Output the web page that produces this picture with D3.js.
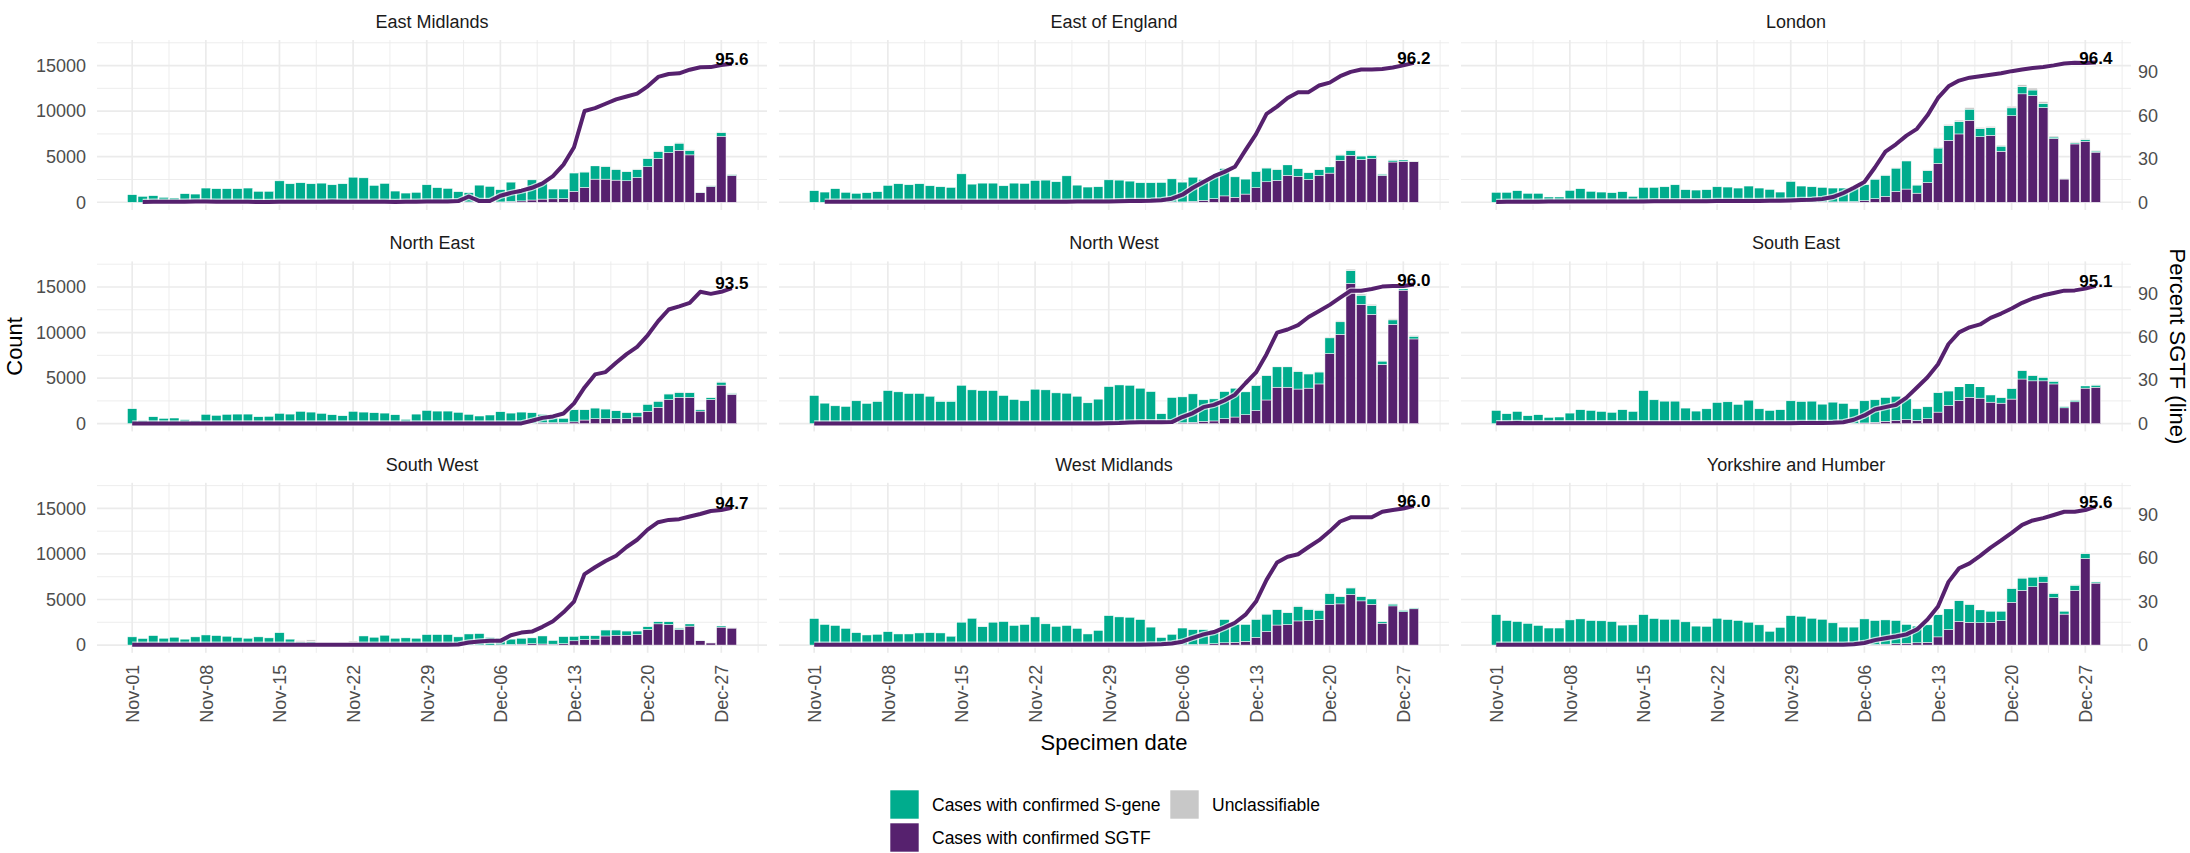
<!DOCTYPE html>
<html><head><meta charset="utf-8">
<script src="https://cdn.jsdelivr.net/npm/d3@7"></script>
<style>
html,body{margin:0;padding:0;background:#fff;overflow:hidden;}
svg{display:block;font-family:"Liberation Sans",Arial,sans-serif;}
</style></head><body>
<svg id="chart" width="2190" height="853"></svg>
<script>
// ---------------- DATA ----------------
const regionNames = ["East Midlands","East of England","London","North East","North West","South East","South West","West Midlands","Yorkshire and Humber"];
const seriesNames = ["Cases with confirmed S-gene","Cases with confirmed SGTF","Unclassifiable"];
const xTickLabels = ["Nov-01","Nov-08","Nov-15","Nov-22","Nov-29","Dec-06","Dec-13","Dec-20","Dec-27"];
const countTicks = [0,5000,10000,15000];
const pctTicks = [0,30,60,90];

// East Midlands
const emSGene = [830,650,720,540,470,940,900, 1560,1490,1490,1490,1560,1200,1200, 2350,2030,2140,2030,2100,1920,2030, 2750,2680,1850,2070,1230,1010,1090, 1920,1600,1520,1160,1010,1860,1710, 1340,2110,1250,2210,1860,1070,1050, 2020,1690,1460,1400,1190,1000,890, 900,790,750,790,500,50,70,390,110];
const emSGTF = [0,0,0,0,0,0,0, 0,0,0,0,0,0,0, 0,0,0,0,0,0,0, 0,0,0,0,0,0,0, 0,0,0,0,40,20,30, 40,100,150,250,350,380,400, 1200,1630,2540,2540,2430,2360,2720, 3900,4800,5450,5700,5200,1050,1750,7250,2950];
const emUncl = [0,0,0,0,0,0,0, 0,0,0,0,0,0,0, 0,0,0,0,0,0,0, 0,0,0,0,0,0,0, 0,0,0,0,0,0,0, 0,0,0,0,0,0,0, 40,50,60,50,40,40,50, 60,60,70,70,60,20,30,80,40];
const emPct = [null,0.2,0.3,0.3,0.4,0.3,0.5, 0.5,0.4,0.4,0.3,0.3,0.2,0.2, 0.3,0.3,0.4,0.4,0.4,0.5,0.3, 0.3,0.4,0.3,0.3,0.2,0.3,0.4, 0.5,0.5,0.6,0.8,4.0,0.8,0.9, 4.5,6.5,8,10,13,18,26, 38,63,65,68,71,73,75, 80,86.5,88.5,89,91.5,93.2,93.3,94.7,95.6];

// East of England
const eeSGene = [1270,1120,1490,1090,980,1050,1160, 1850,2030,1920,2030,1810,1700,1630, 3120,1990,2100,2100,1810,2100,2070, 2390,2430,2250,2900,1880,1670,1700, 2460,2430,2320,2140,2140,2150,2530, 2170,2650,2300,2430,3000,2240,1640, 1800,1510,1210,1160,830,760,620, 690,580,540,380,350,140,200,150,20];
const eeSGTF = [0,0,0,0,0,0,0, 0,0,0,0,0,0,0, 0,0,0,0,0,0,0, 0,0,0,0,0,0,0, 0,0,0,0,0,20,40, 40,100,200,400,700,550,900, 1600,2250,2400,2950,2850,2500,2950, 3200,4600,5150,4700,4800,2950,4420,4500,4450];
const eeUncl = [0,0,0,0,0,0,0, 0,0,0,0,0,0,0, 0,0,0,0,0,0,0, 0,0,0,0,0,0,0, 0,0,0,0,0,0,0, 0,0,0,0,0,0,0, 40,50,50,60,50,40,50, 60,70,70,60,70,30,60,60,60];
const eePct = [null,0.3,0.3,0.4,0.3,0.3,0.4, 0.4,0.3,0.3,0.3,0.3,0.3,0.3, 0.3,0.3,0.3,0.3,0.3,0.3,0.3, 0.3,0.3,0.3,0.4,0.5,0.5,0.6, 0.6,0.7,0.8,0.9,1.0,1.4,2.5, 5.2,10,14,18,21,24.5,36, 47,61,66,72,76,76,80.6, 82.6,87,90,91.6,91.6,92,93,94.5,96.2];

// London
const ldSGene = [1090,1090,1270,980,980,580,580, 1300,1490,1200,1120,1050,1160,650, 1630,1630,1700,1920,1380,1340,1380, 1700,1670,1560,1780,1560,1410,1120, 2270,1765,1680,1600,1520,1510,1480, 1790,2140,2320,2550,3090,890,1320, 1680,1600,1370,1220,870,830,560, 860,780,620,460,160,50,120,170,120];
const ldSGTF = [0,0,0,0,0,0,0, 0,0,0,0,0,0,0, 0,0,0,0,0,0,0, 0,0,0,0,0,0,0, 10,15,20,30,40,50,80, 180,400,650,1200,1450,1000,2170, 4270,6800,7500,9000,7200,7350,5600, 9500,11900,11700,10400,7000,2550,6400,6700,5500];
const ldUncl = [0,0,0,0,0,0,0, 0,0,0,0,0,0,0, 0,0,0,0,0,0,0, 0,0,0,0,0,0,0, 0,0,0,0,0,0,0, 20,30,40,50,60,30,60, 100,150,150,180,150,150,110, 180,220,220,190,120,40,110,120,100];
const ldPct = [0.2,0.3,0.3,0.4,0.4,0.5,0.5, 0.5,0.5,0.5,0.6,0.6,0.6,0.6, 0.6,0.7,0.7,0.7,0.7,0.7,0.7, 0.8,0.8,0.8,0.9,0.9,1.0,1.0, 1.2,1.5,1.8,2.3,3.6,6.4,10, 14,24,35,40,46,50.7,60, 72,80,84,86,87,88,89, 90.5,91.6,92.7,93.4,94.5,95.8,96.3,96.1,96.4];

// North East
const neSGene = [1640,360,760,580,620,440,330, 1020,910,1020,1050,1050,760,800, 1130,1050,1350,1270,1130,980,870, 1350,1270,1200,1160,980,470,1050, 1450,1380,1380,1240,1020,840,950, 1310,1160,1260,1150,900,520,470, 1340,1130,1170,1060,870,690,490, 790,670,620,540,500,160,220,330,110];
const neSGTF = [0,0,0,0,0,0,0, 0,0,0,0,0,0,0, 0,0,0,0,0,0,0, 0,0,0,0,0,0,0, 0,0,0,0,0,0,0, 0,0,10,50,120,100,110, 200,400,550,550,550,550,750, 1350,1800,2640,2900,2900,1380,2650,4230,3230];
const neUncl = [0,0,0,0,0,0,0, 0,0,0,0,0,0,0, 0,0,0,0,0,0,0, 0,0,0,0,0,0,0, 0,0,0,0,0,0,0, 0,0,0,0,0,0,0, 20,30,30,30,30,30,30, 40,40,50,50,50,20,40,60,40];
const nePct = [0.2,0.1,0.1,0.1,0.1,0.1,0.1, 0.1,0.1,0.1,0.1,0.1,0.1,0.1, 0.1,0.1,0.1,0.1,0.1,0.1,0.1, 0.1,0.1,0.1,0.1,0.1,0.1,0.1, 0.1,0.1,0.1,0.1,0.1,0.1,0.1, 0.1,0.1,0.2,2,4,5,7, 14,25,34,35.6,42,48,53, 61,70.8,78.8,81,83.4,91,89.6,91,93.5];

// North West
const nwSGene = [3090,2250,1960,1890,2510,2220,2430, 3630,3490,3310,3310,3010,2430,2430, 4210,3710,3630,3630,3090,2650,2510, 3780,3710,3380,3340,3010,2290,2690, 4070,4250,4200,3880,3500,1070,2820, 2840,3120,2370,2420,2970,3160,2510, 2760,2680,2240,2240,1940,1560,1310, 1720,1380,1400,1000,980,370,490,160,300];
const nwSGTF = [0,0,0,0,0,0,0, 0,0,0,0,0,0,0, 0,0,0,0,0,0,0, 0,0,0,0,0,0,0, 0,0,10,10,20,20,50, 100,150,250,300,550,730,980, 1450,2600,4000,4000,3800,3900,4360, 7700,9800,15400,13100,12000,6500,10900,14650,9300];
const nwUncl = [0,0,0,0,0,0,0, 0,0,0,0,0,0,0, 0,0,0,0,0,0,0, 0,0,0,0,0,0,0, 0,0,0,0,0,0,0, 0,0,0,0,0,0,0, 40,60,80,80,70,60,70, 100,120,160,140,130,70,120,80,100];
const nwPct = [0.2,0.2,0.2,0.2,0.2,0.2,0.2, 0.2,0.2,0.2,0.2,0.2,0.2,0.2, 0.2,0.2,0.2,0.2,0.2,0.2,0.2, 0.2,0.2,0.2,0.2,0.2,0.2,0.2, 0.3,0.4,0.8,0.9,1.0,1.0,1.1, 4.6,7.3,11.4,13,16,20,27.9, 35.4,48,62.8,65,68,73.6,77.7, 82,87,91.8,91.8,93,94.6,95,95,96.0];

// South East
const seSGene = [1450,1090,1340,870,980,690,730, 1160,1530,1450,1340,1240,1530,1340, 3630,2620,2470,2470,1710,1380,1630, 2320,2400,2110,2580,1630,1450,1530, 2510,2430,2470,2140,2350,2200,1590, 2430,2470,2620,2660,2270,1280,1300, 2140,1590,1510,1480,1250,800,620, 1170,920,580,400,300,160,180,250,230];
const seSGTF = [0,0,0,0,0,0,0, 0,0,0,0,0,0,0, 0,0,0,0,0,0,0, 0,0,0,0,0,0,0, 0,0,0,0,10,20,40, 80,150,250,350,450,350,550, 1270,2000,2540,2900,2800,2360,2250, 2700,4900,4700,4700,4360,1740,2400,3900,4000];
const seUncl = [0,0,0,0,0,0,0, 0,0,0,0,0,0,0, 0,0,0,0,0,0,0, 0,0,0,0,0,0,0, 0,0,0,0,0,0,0, 0,0,0,0,0,0,0, 40,40,50,50,50,40,40, 50,60,60,60,60,30,40,60,60];
const sePct = [0.3,0.3,0.4,0.3,0.3,0.3,0.3, 0.3,0.3,0.3,0.3,0.3,0.3,0.3, 0.3,0.3,0.3,0.3,0.3,0.3,0.3, 0.3,0.3,0.3,0.3,0.3,0.3,0.3, 0.3,0.4,0.4,0.5,0.6,1.0,2.7, 5.7,9.8,11.4,13,18,25,32, 41,55,63,66.5,68.5,73,76, 79.5,83.4,86.4,88.6,90.2,91.8,92,93.2,95.1];

// South West
const swSGene = [900,720,1040,750,860,650,900, 1110,1040,970,830,750,900,790, 1360,650,350,370,40,30,20, 250,1000,860,1080,750,790,750, 1150,1150,1150,900,1220,1260,830, 720,590,650,640,880,400,780, 510,460,410,660,580,470,400, 320,240,310,140,250,30,5,140,10];
const swSGTF = [0,0,0,0,0,0,0, 0,0,0,0,0,0,0, 0,0,0,0,0,0,0, 0,0,0,0,0,0,0, 0,0,0,0,0,0,0, 30,60,100,150,120,100,150, 470,600,650,1000,1080,1080,1150, 1720,2330,2260,1720,2080,500,240,1970,1870];
const swUncl = [0,0,0,0,0,0,0, 0,0,0,0,0,0,0, 0,0,150,200,40,30,30, 200,0,0,0,0,0,0, 0,0,0,0,0,0,0, 0,0,0,0,0,0,0, 20,20,20,30,30,30,30, 40,50,50,40,40,10,5,40,20];
const swPct = [0.3,0.3,0.3,0.3,0.3,0.3,0.3, 0.3,0.3,0.3,0.3,0.3,0.3,0.3, 0.3,0.3,0.3,0.3,0.3,0.3,0.3, 0.3,0.3,0.3,0.3,0.3,0.3,0.3, 0.3,0.3,0.3,0.4,1.8,2.5,2.9, 2.9,6.8,8.6,9.3,12.6,16.5,22.6, 30,49,53.7,58,61.6,67.7,72.7, 79.7,84.8,86.4,86.9,88.7,90.5,92.5,93.2,94.7];

// West Midlands
const wmSGene = [2910,2260,2150,1830,1360,1110,1180, 1470,1220,1220,1330,1360,1330,970, 2510,2940,2010,2510,2580,2150,2260, 3090,2330,2050,2150,1830,1220,1610, 3230,3090,3050,2800,1960,820,1160, 1830,1630,1590,1500,2550,1960,1860, 1990,1900,1700,1300,1610,1250,1030, 1190,800,720,460,590,190,200,170,100];
const wmSGTF = [0,0,0,0,0,0,0, 0,0,0,0,0,0,0, 0,0,0,0,0,0,0, 0,0,0,0,0,0,0, 0,0,0,0,10,10,20, 40,60,100,150,250,300,400, 850,1500,2200,2250,2650,2680,2800, 4480,4520,5550,4850,4480,2400,4300,3660,3980];
const wmUncl = [0,0,0,0,0,0,0, 0,0,0,0,0,0,0, 0,0,0,0,0,0,0, 0,0,0,0,0,0,0, 0,0,0,0,0,0,0, 0,0,0,0,0,0,0, 30,40,50,40,50,50,50, 70,60,80,70,60,30,60,50,50];
const wmPct = [0.3,0.3,0.3,0.3,0.3,0.3,0.3, 0.3,0.3,0.3,0.3,0.3,0.3,0.3, 0.3,0.3,0.3,0.3,0.3,0.3,0.3, 0.3,0.3,0.3,0.3,0.3,0.3,0.3, 0.3,0.3,0.3,0.3,0.4,0.6,1.1, 2.3,5,7.4,9,12,15.4,21, 30,45,57,61,62.7,67.7,72.4, 78.5,85.3,88.2,88.2,88.2,92,93.2,94.3,96.0];

// Yorkshire and Humber
const yhSGene = [3340,2690,2580,2370,2150,1870,1870, 2760,2870,2690,2660,2580,2190,2220, 3340,2910,2830,2830,2550,2080,2050, 2940,2800,2690,2510,2220,1510,1940, 3230,3160,2940,2830,2440,1960,1950, 2840,2630,2660,2540,2060,1830,1920, 2440,2280,2270,1970,1420,1230,1030, 1520,1350,1060,660,480,330,570,550,130];
const yhSGTF = [0,0,0,0,0,0,0, 0,0,0,0,0,0,0, 0,0,0,0,0,0,0, 0,0,0,0,0,0,0, 0,0,0,0,0,10,20, 30,60,100,150,200,250,300, 900,1700,2600,2500,2450,2500,2700, 4700,6000,6400,6900,5200,3400,6000,9500,6800];
const yhUncl = [0,0,0,0,0,0,0, 0,0,0,0,0,0,0, 0,0,0,0,0,0,0, 0,0,0,0,0,0,0, 0,0,0,0,0,0,0, 0,0,0,0,0,0,0, 30,40,50,50,40,40,40, 60,80,80,80,60,40,70,100,70];
const yhPct = [0.2,0.2,0.2,0.2,0.2,0.2,0.2, 0.2,0.2,0.2,0.2,0.2,0.2,0.2, 0.2,0.2,0.2,0.2,0.2,0.2,0.2, 0.2,0.2,0.2,0.2,0.2,0.2,0.2, 0.2,0.2,0.2,0.2,0.2,0.3,0.5, 1.4,3.4,4.7,5.9,7.4,10.8,17.6, 26.6,43.6,53,56.4,61.6,67.3,72.2, 77.4,83,86,87.6,89.8,92,92,93.2,95.6];

// ---------------- CHART ----------------
const panels = [
  {name: regionNames[0], sgene: emSGene, sgtf: emSGTF, uncl: emUncl, pct: emPct},
  {name: regionNames[1], sgene: eeSGene, sgtf: eeSGTF, uncl: eeUncl, pct: eePct},
  {name: regionNames[2], sgene: ldSGene, sgtf: ldSGTF, uncl: ldUncl, pct: ldPct},
  {name: regionNames[3], sgene: neSGene, sgtf: neSGTF, uncl: neUncl, pct: nePct},
  {name: regionNames[4], sgene: nwSGene, sgtf: nwSGTF, uncl: nwUncl, pct: nwPct},
  {name: regionNames[5], sgene: seSGene, sgtf: seSGTF, uncl: seUncl, pct: sePct},
  {name: regionNames[6], sgene: swSGene, sgtf: swSGTF, uncl: swUncl, pct: swPct},
  {name: regionNames[7], sgene: wmSGene, sgtf: wmSGTF, uncl: wmUncl, pct: wmPct},
  {name: regionNames[8], sgene: yhSGene, sgtf: yhSGTF, uncl: yhUncl, pct: yhPct}
];

const COL_SGENE = "#00AC8D", COL_SGTF = "#56216E", COL_UNCL = "#C8C8C8";
const GRID = "#EBEBEB";
const panelW = 670, panelH = 170;
const colX = [97, 779, 1461], rowY = [40, 261.4, 482.8];
const pctFactor = 159; // secondary axis: count = percent * factor

const svg = d3.select("#chart");
const DAY = 864e5;
const dates = d3.timeDay.range(new Date(2020, 10, 1), new Date(2020, 11, 29));
const tickDates = xTickLabels.map((_, i) => dates[i * 7]);

const barHalf = 0.45 * DAY;
const span = (+dates[dates.length - 1] + barHalf) - (+dates[0] - barHalf);
const x = d3.scaleTime()
  .domain([new Date(+dates[0] - barHalf - 0.05 * span), new Date(+dates[dates.length - 1] + barHalf + 0.05 * span)])
  .range([0, panelW]);

const maxTotal = d3.max(panels, p => d3.max(dates, (d, i) => p.sgene[i] + p.sgtf[i] + p.uncl[i]));
const y = d3.scaleLinear().domain([-0.05 * maxTotal, 1.05 * maxTotal]).range([panelH, 0]);
const ySec = d3.scaleLinear().domain(y.domain().map(v => v / pctFactor)).range([panelH, 0]);

const majorY = [0, 5000, 10000, 15000];
const minorY = [2500, 7500, 12500, 17500].filter(v => v <= y.domain()[1]);
const minorX = tickDates.map(d => new Date(+d + 3.5 * DAY)).concat([new Date(+tickDates[0] - 3.5 * DAY)])
  .filter(d => d >= x.domain()[0] && d <= x.domain()[1]);

const stack = d3.stack().keys(["sgtf", "sgene", "uncl"]);
const colorOf = {sgtf: COL_SGTF, sgene: COL_SGENE, uncl: COL_UNCL};

panels.forEach((p, pi) => {
  const col = pi % 3, row = Math.floor(pi / 3);
  const g = svg.append("g").attr("transform", `translate(${colX[col]},${rowY[row]})`);

  // grid
  minorY.forEach(v => g.append("line").attr("x1", 0).attr("x2", panelW).attr("y1", y(v)).attr("y2", y(v))
    .attr("stroke", GRID).attr("stroke-width", 0.9));
  minorX.forEach(d => g.append("line").attr("x1", x(d)).attr("x2", x(d)).attr("y1", 0).attr("y2", panelH)
    .attr("stroke", GRID).attr("stroke-width", 0.9));
  majorY.forEach(v => g.append("line").attr("x1", 0).attr("x2", panelW).attr("y1", y(v)).attr("y2", y(v))
    .attr("stroke", GRID).attr("stroke-width", 1.7));
  tickDates.forEach(d => g.append("line").attr("x1", x(d)).attr("x2", x(d)).attr("y1", 0).attr("y2", panelH)
    .attr("stroke", GRID).attr("stroke-width", 1.7));

  // bars
  const rows = dates.map((d, i) => ({date: d, sgtf: p.sgtf[i], sgene: p.sgene[i], uncl: p.uncl[i]}));
  const layers = stack(rows);
  layers.forEach(layer => {
    g.append("g").selectAll("rect").data(layer).join("rect")
      .attr("x", d => x(new Date(+d.data.date - barHalf)))
      .attr("width", d => x(new Date(+d.data.date + barHalf)) - x(new Date(+d.data.date - barHalf)))
      .attr("y", d => y(d[1]))
      .attr("height", d => Math.max(0, y(d[0]) - y(d[1])))
      .attr("fill", colorOf[layer.key])
      .attr("stroke", "#ffffff").attr("stroke-width", 0.5);
  });

  // percent line
  const line = d3.line().defined(v => v != null)
    .x((v, i) => x(dates[i])).y(v => ySec(v));
  g.append("path").datum(p.pct).attr("d", line).attr("fill", "none")
    .attr("stroke", "#ffffff").attr("stroke-opacity", 0.7).attr("stroke-width", 6.5).attr("stroke-linejoin", "round");
  g.append("path").datum(p.pct).attr("d", line).attr("fill", "none")
    .attr("stroke", COL_SGTF).attr("stroke-width", 4).attr("stroke-linejoin", "round");

  const last = p.pct.length - 1;
  g.append("text").attr("x", x(dates[last])).attr("y", ySec(p.pct[last]) + 1)
    .attr("text-anchor", "middle").attr("font-size", 17).attr("font-weight", "bold").attr("fill", "#000")
    .text(p.pct[last].toFixed(1));

  // strip title
  g.append("text").attr("x", panelW / 2).attr("y", -12).attr("text-anchor", "middle")
    .attr("font-size", 18).attr("fill", "#1A1A1A").text(p.name);

  // axes
  if (col === 0) {
    const ax = g.append("g").call(d3.axisLeft(y).tickValues(countTicks).tickSize(0).tickPadding(11).tickFormat(d3.format("d")));
    ax.select(".domain").remove();
    ax.selectAll("text").attr("font-size", 18).attr("fill", "#4D4D4D").attr("font-family", null);
  }
  if (col === 2) {
    const ax = g.append("g").attr("transform", `translate(${panelW},0)`)
      .call(d3.axisRight(ySec).tickValues(pctTicks).tickSize(0).tickPadding(7));
    ax.select(".domain").remove();
    ax.selectAll("text").attr("font-size", 18).attr("fill", "#4D4D4D").attr("font-family", null);
  }
  if (row === 2) {
    const ax = g.append("g").attr("transform", `translate(0,${panelH})`)
      .call(d3.axisBottom(x).tickValues(tickDates).tickSize(0).tickFormat((d, i) => xTickLabels[i]));
    ax.select(".domain").remove();
    ax.selectAll("text").attr("font-size", 18).attr("fill", "#4D4D4D").attr("font-family", null)
      .attr("transform", "rotate(-90)").attr("x", -12).attr("y", 0).attr("dy", "0.35em")
      .attr("text-anchor", "end");
  }
});

// axis titles
const midY = (rowY[0] + rowY[2] + panelH) / 2;
svg.append("text").attr("transform", `translate(22,${midY}) rotate(-90)`).attr("text-anchor", "middle")
  .attr("font-size", 22).attr("fill", "#000").text("Count");
svg.append("text").attr("transform", `translate(2170,${midY}) rotate(90)`).attr("text-anchor", "middle")
  .attr("font-size", 22).attr("fill", "#000").text("Percent SGTF (line)");
svg.append("text").attr("x", (colX[0] + colX[2] + panelW) / 2).attr("y", 750).attr("text-anchor", "middle")
  .attr("font-size", 22).attr("fill", "#000").text("Specimen date");

// legend
const legendItems = [
  {label: seriesNames[0], color: COL_SGENE, x: 890, y: 790},
  {label: seriesNames[1], color: COL_SGTF, x: 890, y: 823},
  {label: seriesNames[2], color: COL_UNCL, x: 1170, y: 790}
];
const lg = svg.append("g");
legendItems.forEach(it => {
  lg.append("rect").attr("x", it.x).attr("y", it.y).attr("width", 29).attr("height", 29)
    .attr("fill", it.color).attr("stroke", "#ffffff").attr("stroke-width", 0.6);
  lg.append("text").attr("x", it.x + 42).attr("y", it.y + 15).attr("dy", "0.35em")
    .attr("font-size", 17.5).attr("fill", "#000").text(it.label);
});
</script>
</body></html>
